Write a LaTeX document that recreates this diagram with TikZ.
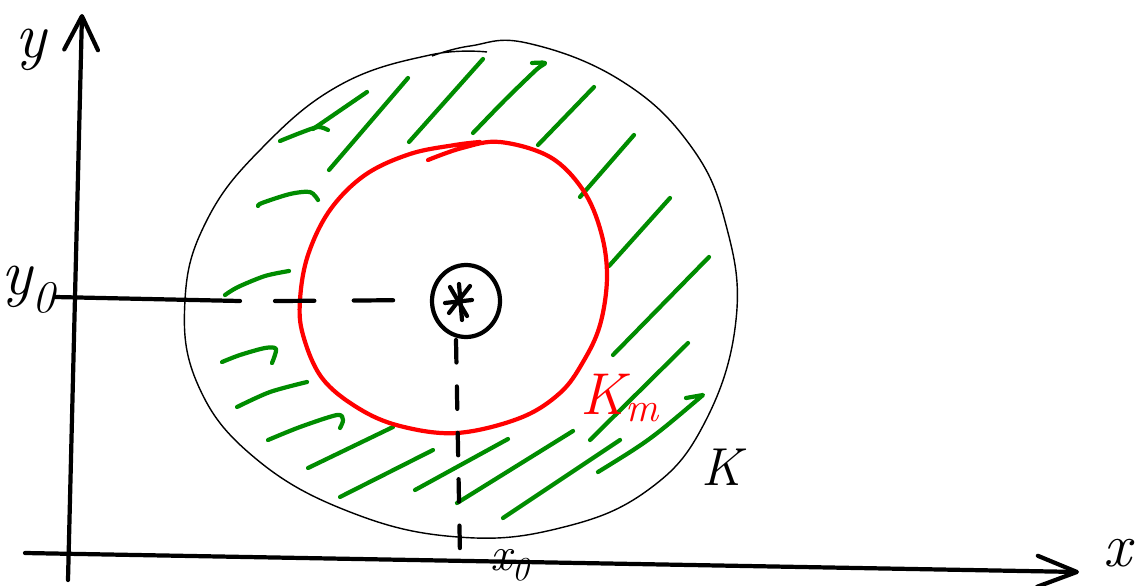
\documentclass[tikz,border=0pt]{standalone}
\usepackage{tikz}
\usetikzlibrary{arrows.meta,positioning}
\definecolor{hatchgreen}{HTML}{008C00}
\definecolor{limred}{HTML}{FF0000}
\tikzset{
  axis/.style={line width=3pt, line cap=round, line join=round},
  ytip/.style={-{Straight Barb[length=24pt, width=24pt, round]}},
  xtip/.style={-{Straight Barb[length=28pt, width=22pt, round]}},
  guide/.style={line width=3pt, line cap=round},
  hatch/.style={draw=hatchgreen, line width=3pt, line cap=round, line join=round},
  outerset/.style={draw=black, line width=1pt},
  innerset/.style={draw=limred, line width=3pt, line cap=round},
  lbl/.style={inner sep=0pt, font=\itshape}
}

\begin{document}
\begin{tikzpicture}[x=0.025cm, y=-0.025cm]
    \useasboundingbox (0,0) rectangle (1143,585);
    % axes
    \coordinate (yfoot) at (68,580);
    \coordinate (yhead) at (82,14);
    \coordinate (xfoot) at (25,553);
    \coordinate (xhead) at (1079,572);
    \draw[axis, ytip] (yfoot) -- (yhead);
    \draw[axis, xtip] (xfoot) -- (xhead);
    % the set K
    \draw[outerset] plot[smooth, tension=0.7] coordinates {
      (487,52) (430,55) (340,85) (262,148) (207,220) (185,300) (198,385)
      (255,458) (350,512) (458,537) (560,528) (648,490) (705,422) (736,320)
      (726,225) (690,145) (620,80) (527,43) (470,46) (432,56)};
    % hatching between K_m and K
    \foreach \xa/\ya/\xb/\yb in {313/129/367/92, 329/170/408/78, 409/142/483/59,
        538/145/594/87, 580/197/634/135, 609/266/670/198,
        613/355/709/257, 590/440/688/343, 308/468/393/427,
        340/497/433/450, 415/490/508/439, 457/503/573/431,
        503/518/620/440}
      \draw[hatch] (\xa,\ya) -- (\xb,\yb);
    \draw[hatch] plot[smooth] coordinates {(280,141) (300,133) (318,127) (328,130)};
    \draw[hatch] plot[smooth] coordinates {(473,133) (505,100) (536,70) (545,63) (532,63)};
    \draw[hatch] plot[smooth] coordinates {(258,206) (262,203) (290,194) (310,192) (318,200)};
    \draw[hatch] plot[smooth] coordinates {(225,295) (238,287) (265,276) (289,271)};
    \draw[hatch] plot[smooth] coordinates {(222,362) (240,355) (265,348) (276,349) (272,363)};
    \draw[hatch] plot[smooth] coordinates {(237,407) (270,392) (307,382)};
    \draw[hatch] plot[smooth] coordinates {(268,440) (300,427) (337,415) (343,420) (340,428)};
    \draw[hatch] (598,472) .. controls (650,440) .. (703,395) -- (686,398);
    % the set K_m
    \draw[innerset] plot[smooth, tension=0.6] coordinates {
      (428,160) (462,148) (500,142) (550,157) (583,190) (601,232) (607,277)
      (600,325) (583,362) (560,393) (520,418) (457,433) (400,426) (358,408)
      (322,378) (303,335) (300,300) (308,255) (330,210) (365,175) (410,154)
      (455,145) (480,142)};
    % the point (x_0, y_0)
    \draw[guide] (55,297) -- (240,301);
    \draw[guide, dash pattern={on 28pt off 28pt}] (275,301) -- (432,300);
    \draw[guide, dash pattern={on 16pt off 17pt}] (456,340) -- (460,555);
    \draw[axis] (466,301) ellipse[x radius=34, y radius=36];
    \draw[axis] (445,303) -- (472,300);
    \draw[axis] (450,287) -- (467,316);
    \draw[axis] (470,286) -- (449,313);
    \draw[axis] (459,284) -- (462,320);
    % labels
    \node[lbl, font=\itshape\fontsize{46}{46}\selectfont] (ylab) at (31,50) {y};
    \node[lbl, font=\itshape\fontsize{46}{46}\selectfont] (y0lab) at (29,290) {y\textsubscript{0}};
    \node[lbl, font=\itshape\fontsize{34}{34}\selectfont] (x0lab) at (510,565) {x\textsubscript{0}};
    \node[lbl, font=\itshape\fontsize{44}{44}\selectfont] (xlab) at (1117,553) {x};
    \node[lbl, text=limred, font=\itshape\fontsize{42}{42}\selectfont] (kmlab) at (620,398) {K\textsubscript{m}};
    \node[lbl, font=\itshape\fontsize{38}{38}\selectfont] (klab) at (722,467) {K};
\end{tikzpicture}
\end{document}
